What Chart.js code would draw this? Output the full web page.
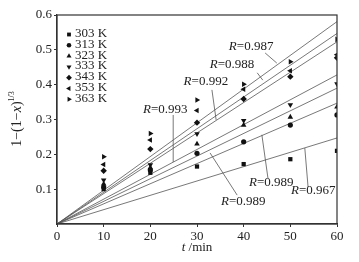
<!DOCTYPE html>
<html>
<head>
<meta charset="utf-8">
<script src="https://cdn.jsdelivr.net/npm/chart.js@4/dist/chart.umd.min.js"></script>
<style>
  html, body { margin: 0; padding: 0; background: #fff; }
  #wrap { width: 359px; height: 262px; }
</style>
</head>
<body>
<div id="wrap"><canvas id="c" width="359" height="262"></canvas></div>
<script>
// datos
const times = [10, 20, 30, 40, 50, 60];
const temps = ['303 K', '313 K', '323 K', '333 K', '343 K', '353 K', '363 K'];
const y303 = [0.100, 0.147, 0.165, 0.172, 0.186, 0.210];
const y313 = [0.106, 0.155, 0.203, 0.236, 0.284, 0.313];
const y323 = [0.115, 0.162, 0.230, 0.284, 0.307, 0.336];
const y333 = [0.126, 0.170, 0.259, 0.297, 0.342, 0.402];
const y343 = [0.153, 0.215, 0.291, 0.359, 0.423, 0.477];
const y353 = [0.171, 0.241, 0.326, 0.387, 0.440, 0.486];
const y363 = [0.193, 0.260, 0.356, 0.401, 0.466, 0.530];
// valor de la recta ajustada (por el origen) en t = 60
const fitEnds = [0.247, 0.347, 0.390, 0.428, 0.523, 0.547, 0.581];
const xTicks = [0, 10, 20, 30, 40, 50, 60];
const yTicks = [0.1, 0.2, 0.3, 0.4, 0.5, 0.6];

// etiquetas R y sus líneas guía (coordenadas de datos)
const rLabels = [
    { text: '0.987', x: 41.6, y: 0.508, from: [44.6, 0.491], to: [47.1, 0.462] },
    { text: '0.988', x: 37.5, y: 0.459, from: [42.9, 0.434], to: [44.1, 0.413] },
    { text: '0.992', x: 31.9, y: 0.408, from: [33.2, 0.385], to: [34.1, 0.299] },
    { text: '0.993', x: 23.2, y: 0.328, from: [24.9, 0.313], to: [24.9, 0.178] },
    { text: '0.989', x: 39.9, y: 0.063, from: [38.6, 0.083], to: [32.8, 0.204] },
    { text: '0.989', x: 45.9, y: 0.118, from: [45.2, 0.132], to: [43.9, 0.256] },
    { text: '0.967', x: 54.9, y: 0.095, from: [53.8, 0.106], to: [53.1, 0.218] }
];

const seriesValues = [y303, y313, y323, y333, y343, y353, y363];
const markerStyles = [
    { pointStyle: 'rect', rotation: 0, radius: 3 },
    { pointStyle: 'circle', rotation: 0, radius: 2.6 },
    { pointStyle: 'triangle', rotation: 0, radius: 3.2 },
    { pointStyle: 'triangle', rotation: 180, radius: 3.2 },
    { pointStyle: 'rectRot', rotation: 0, radius: 3.2 },
    { pointStyle: 'triangle', rotation: -90, radius: 3.2 },
    { pointStyle: 'triangle', rotation: 90, radius: 3.2 }
];

const SERIF = '"Liberation Serif", "DejaVu Serif", serif';
const INK = '#222';

const datasets = [];
fitEnds.forEach((end, i) => {
    datasets.push({
        type: 'line',
        label: 'fit ' + temps[i],
        data: [{ x: 0, y: 0 }, { x: 60, y: end }],
        borderColor: '#555',
        borderWidth: 0.8,
        pointRadius: 0,
        fill: false,
        order: 2
    });
});
seriesValues.forEach((vals, i) => {
    datasets.push({
        type: 'scatter',
        label: temps[i],
        data: times.map((t, k) => ({ x: t, y: vals[k] })),
        backgroundColor: '#111',
        borderColor: '#111',
        borderWidth: 0,
        pointStyle: markerStyles[i].pointStyle,
        rotation: markerStyles[i].rotation,
        pointRadius: markerStyles[i].radius,
        order: 1
    });
});

// dibuja texto con partes en cursiva
function drawParts(ctx, parts, x, y, align) {
    let total = 0;
    parts.forEach(p => {
        ctx.font = p.font;
        p.w = ctx.measureText(p.t).width;
        total += p.w;
    });
    let cx = align === 'center' ? x - total / 2 : x;
    parts.forEach(p => {
        ctx.font = p.font;
        ctx.fillText(p.t, cx, y + (p.dy || 0));
        cx += p.w;
    });
}

const decorPlugin = {
    id: 'decor',
    afterDraw(chart) {
        const ctx = chart.ctx;
        const xs = chart.scales.x;
        const ys = chart.scales.y;
        const area = chart.chartArea;
        ctx.save();

        // marco
        ctx.strokeStyle = '#333';
        ctx.lineWidth = 1.2;
        ctx.strokeRect(area.left, area.top, area.right - area.left, area.bottom - area.top);

        // leyenda
        ctx.textBaseline = 'middle';
        ctx.textAlign = 'left';
        temps.forEach((name, i) => {
            const ly = 33.5 + i * 10.8;
            const st = markerStyles[i];
            ctx.fillStyle = '#111';
            Chart.helpers.drawPoint(ctx, { pointStyle: st.pointStyle, rotation: st.rotation, radius: st.radius - 0.3, borderWidth: 0 }, 69, ly + 1);
            ctx.fillStyle = INK;
            ctx.font = '13px ' + SERIF;
            ctx.fillText(name, 75, ly);
        });

        // etiquetas R
        ctx.strokeStyle = '#555';
        ctx.lineWidth = 0.8;
        rLabels.forEach(r => {
            ctx.beginPath();
            ctx.moveTo(xs.getPixelForValue(r.from[0]), ys.getPixelForValue(r.from[1]));
            ctx.lineTo(xs.getPixelForValue(r.to[0]), ys.getPixelForValue(r.to[1]));
            ctx.stroke();
            ctx.fillStyle = INK;
            drawParts(ctx, [
                { t: 'R', font: 'italic 13px ' + SERIF },
                { t: '=' + r.text, font: '13px ' + SERIF }
            ], xs.getPixelForValue(r.x), ys.getPixelForValue(r.y), 'center');
        });

        // título eje x
        ctx.fillStyle = INK;
        drawParts(ctx, [
            { t: 't', font: 'italic 13px ' + SERIF },
            { t: ' /min', font: '13px ' + SERIF }
        ], (area.left + area.right) / 2, 248, 'center');

        // título eje y
        ctx.translate(17, 119);
        ctx.rotate(-Math.PI / 2);
        drawParts(ctx, [
            { t: '1\u2212(1\u2212', font: '14px ' + SERIF },
            { t: 'x', font: 'italic 14px ' + SERIF },
            { t: ')', font: '14px ' + SERIF },
            { t: '1/3', font: '8px ' + SERIF, dy: -5 }
        ], 0, 0, 'center');

        ctx.restore();
    }
};

new Chart(document.getElementById('c'), {
    data: { datasets },
    options: {
        responsive: false,
        animation: false,
        layout: { padding: { top: 15, right: 22, left: 0, bottom: 0 } },
        plugins: {
            legend: { display: false },
            tooltip: { enabled: false }
        },
        scales: {
            x: {
                type: 'linear',
                min: 0,
                max: 60,
                afterBuildTicks: (axis) => { axis.ticks = xTicks.map(v => ({ value: v })); },
                afterFit: (axis) => { axis.height = 38; },
                grid: { display: true, drawOnChartArea: false, drawTicks: true, tickLength: 3, color: '#333' },
                border: { display: true, color: '#333', width: 1.2 },
                ticks: { color: INK, font: { family: SERIF, size: 13 }, padding: 2, maxRotation: 0 }
            },
            y: {
                type: 'linear',
                min: 0,
                max: 0.6,
                afterBuildTicks: (axis) => { axis.ticks = yTicks.map(v => ({ value: v })); },
                afterFit: (axis) => { axis.width = 57; },
                grid: { display: true, drawOnChartArea: false, drawTicks: true, tickLength: 3, color: '#333' },
                border: { display: true, color: '#333', width: 1.2 },
                ticks: {
                    color: INK,
                    font: { family: SERIF, size: 13 },
                    padding: 2,
                    callback: (v) => v.toFixed(1)
                }
            }
        }
    },
    plugins: [decorPlugin]
});
</script>
</body>
</html>
